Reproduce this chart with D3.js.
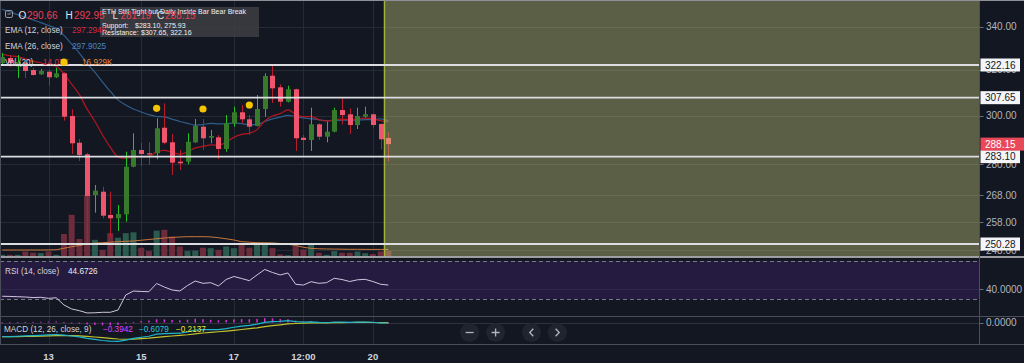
<!DOCTYPE html>
<html><head><meta charset="utf-8">
<script src="https://cdn.jsdelivr.net/npm/d3@7"></script>
<style>
html,body{margin:0;padding:0;background:#131722;overflow:hidden}
svg{display:block}
text{font-family:"Liberation Sans",Arial,sans-serif}
</style></head><body>
<svg id="c" width="1024" height="363"></svg>
<script>
// ---------------- DATA ----------------
const startTime = "2018-08-12T00:00:00Z";   // first 4h candle
const open  = [323.07,325.36,321.5,323.2,319.9,317.96,319.13,316.62,318.41,299.8,288.72,284.04,268.19,269.44,260.73,259.52,260.99,279.11,285.76,284.44,284.44,294.89,288.88,281.09,281.09,288.88,295.31,290.76,290.93,286.16,296.73,301.37,298.41,295.6,302.77,317.33,312.18,305.91,311.31,290.76,289.82,296.31,291.17,293.23,302.35,300.52,296.02,299.5,300.52,296.44,290.66];
const high  = [327.66,326.74,326.74,323.5,320.94,320.35,319.9,320.94,318.9,302.65,290.23,284.6,272.0,271.35,269.44,264.43,285.08,292.57,288.72,288.88,298.83,305.22,292.29,285.76,292.57,298.54,298.54,293.94,291.87,300.22,303.76,304.49,300.22,308.82,318.41,322.16,313.51,312.89,311.6,291.87,303.33,296.73,297.4,303.33,307.65,303.08,303.33,303.76,300.94,296.6,292.95];
const low   = [321.71,321.25,316.31,316.31,317.33,317.7,312.89,316.3,297.82,284.16,281.37,250.28,261.58,259.52,252.52,254.92,258.28,278.9,279.39,279.78,282.04,288.07,275.86,277.81,280.06,288.6,285.76,288.47,282.04,285.08,295.31,296.73,291.87,295.4,299.5,305.35,303.76,305.6,285.36,283.1,285.36,289.82,288.88,293.0,296.31,292.29,294.35,299.08,294.89,286.04,281.19];
const close = [325.82,323.07,323.53,319.45,317.65,319.45,316.62,318.41,299.5,288.47,283.75,267.81,269.83,260.47,259.52,261.1,279.11,285.76,284.16,284.04,294.64,288.72,280.69,280.45,289.13,295.73,290.52,291.46,286.16,296.73,301.37,298.41,295.31,302.77,317.2,311.75,305.91,311.31,290.52,289.82,296.31,291.17,293.23,302.35,300.22,296.02,299.8,300.52,296.02,290.11,288.15];
const volume   = [4,4,4,12,9,8,12,4,54,100,42,148,40,16,56,45,56,58,21,13,62,64,48,24,13,14,21,20,16,24,20,33,21,33,33,20,5,3,25,17,28,9,4,13,9,9,12,8,6,12,14.07];
const volumeMA = [15.6,15.6,15.6,15.6,15.6,15.6,15.8,16.2,19.7,23.5,26.4,30,32,33,34.3,35.5,36.5,37.2,39,40.8,42.5,44.4,45.6,46.8,47.5,47.5,47.5,47,45,42.5,39.6,35.5,34.3,33,33,32.6,31.2,29.5,26.4,22,19.5,18.5,18,17.8,17.5,17.3,17.2,17.1,17,17,16.929];
const ema12 = [327.0,326.4,326.0,325.0,323.8,323.2,322.2,321.6,318.2,313.6,309.0,302.7,297.6,291.9,286.9,283.0,282.4,282.9,283.1,283.2,285.0,285.6,284.8,284.1,284.9,286.6,287.2,287.8,287.6,289.0,290.9,292.1,292.6,294.1,297.7,299.8,300.8,302.4,300.6,299.5,299.6,298.3,297.6,298.3,298.5,298.2,298.6,298.9,298.6,297.8,297.2946];
const ema26 = [348.5,347.2,345.9,344.6,343.3,342.0,340.6,339.2,335.9,331.8,327.6,322.9,318.9,314.5,310.4,306.7,304.5,302.8,301.5,300.4,299.6,299.4,298.5,297.5,296.7,296.0,296.2,296.7,296.5,296.6,296.8,296.6,296.2,296.2,297.5,298.6,299.3,300.1,299.6,299.0,298.7,298.2,297.9,297.8,298.0,298.0,298.1,298.3,298.3,298.6,297.9025];
const rsi = [32.9,32.7,32.4,32.1,31.5,31.8,30.7,31.3,23.7,19.5,17.7,15.3,15.5,16.0,16.0,18.4,34.2,38.4,37.9,37.7,46.3,42.6,39.5,38.4,44.2,48.9,46.5,47.2,43.7,50.5,53.7,51.6,49.3,55.3,61.1,57.9,55.3,57.4,45.5,44.7,48.2,46.5,47.2,51.8,50.5,48.4,50.2,50.7,48.4,45.5,44.6726];
const macd = [-17.8,-17.6,-17.2,-16.8,-16.4,-16.0,-15.5,-15.0,-15.9,-16.9,-18.0,-19.9,-21.1,-22.5,-23.4,-23.7,-22.1,-19.9,-18.4,-17.2,-14.6,-13.8,-13.7,-13.4,-11.8,-9.4,-9.0,-8.9,-8.9,-7.6,-5.9,-4.5,-3.6,-2.1,0.2,1.2,1.5,2.3,1.0,0.5,0.9,0.1,-0.3,0.5,0.5,0.2,0.5,0.6,0.3,-0.4,-0.6079];
const signal = [-17.8,-17.76,-17.65,-17.48,-17.26,-17.01,-16.71,-16.37,-16.27,-16.40,-16.72,-17.36,-18.11,-18.99,-19.87,-20.64,-20.93,-20.72,-20.26,-19.65,-18.64,-17.67,-16.88,-16.18,-15.30,-14.12,-13.10,-12.26,-11.59,-10.79,-9.81,-8.75,-7.72,-6.60,-5.24,-3.95,-2.86,-1.83,-1.26,-0.91,-0.55,-0.42,-0.40,-0.22,-0.08,-0.02,0.08,0.05,0.0,-0.1,-0.2137];
const signalDots = [8,20,26,32];                 // candle indices with gold markers
const levels = [322.16, 307.65, 283.10, 250.28]; // horizontal drawn lines
const lastPrice = 288.15;
const priceTicks = [340,320,300,280,268,258,248];
const rsiTicks = [40];
const macdTicks = [0];
const timeTicks = ["2018-08-13T00:00:00Z","2018-08-15T00:00:00Z","2018-08-17T00:00:00Z","2018-08-18T12:00:00Z","2018-08-20T00:00:00Z"];
const timeTickLabels = ["13","15","17","12:00","20"];
const shadeStart = "2018-08-20T06:00:00Z";
const title = "ETH Still Tight but Daily Inside Bar Bear Break";
const supportTxt = ["Support:", "$283.10, 275.93"];
const resistTxt = ["Resistance:", "$307.65, 322.16"];

// ---------------- LAYOUT ----------------
const W = 1024, H = 363, plotR = 979.5;
const mainBot = 256.5, rsiTop = 257.5, rsiBot = 316, macdTop = 316, macdBot = 344;
const C = {bg:"#131722", grid:"#262a35", txt:"#d1d4dc", axis:"#b2b5be",
  upBody:"#377a2c", upWick:"#22c322", dnBody:"#ef566d", dnWick:"#b81c2c",
  volUp:"#2c5a4f", volDn:"#6c2c3b"};

const times = d3.range(open.length).map(i => d3.utcHour.offset(new Date(startTime), 4 * i));
const x = d3.scaleUtc().domain([new Date("2018-08-13T00:00:00Z"), new Date("2018-08-20T00:00:00Z")]).range([48.5, 372.9]);
const y = d3.scaleLog().domain([246.08, 353.09]).range([256, 0]);
const yVol = d3.scaleLinear().domain([0, 615]).range([256.5, 0]);
const yRsi = d3.scaleLinear().domain([12.1, 73.16]).range([316, 258]);
const yMacd = d3.scaleLinear().domain([-26.875, 8.125]).range([344, 316]);
const px = v => Math.round(v) + 0.5;

const svg = d3.select("#c");
svg.append("rect").attr("width", W).attr("height", H).attr("fill", C.bg);
const defs = svg.append("defs");
[["cm",0,0,plotR,mainBot],["cr",0,rsiTop,plotR,rsiBot-rsiTop],["cd",0,macdTop,plotR,macdBot-macdTop]].forEach(([id,a,b,w,h])=>{
  defs.append("clipPath").attr("id",id).append("rect").attr("x",a).attr("y",b).attr("width",w).attr("height",h);
});

// vertical grid across panes
svg.append("g").selectAll("line").data(timeTicks).join("line")
  .attr("x1", d => px(x(new Date(d)))).attr("x2", d => px(x(new Date(d))))
  .attr("y1", 0).attr("y2", macdBot).attr("stroke", C.grid).attr("stroke-width", 1);

// ---------------- MAIN PANE ----------------
const gm = svg.append("g").attr("clip-path", "url(#cm)");
gm.selectAll(".hg").data(priceTicks).join("line").attr("class","hg")
  .attr("x1",0).attr("x2",plotR).attr("y1",d=>px(y(d))).attr("y2",d=>px(y(d)))
  .attr("stroke",C.grid);

// volume
gm.selectAll(".vol").data(volume).join("rect").attr("class","vol")
  .attr("x",(d,i)=>x(times[i])-3).attr("width",6)
  .attr("y",d=>yVol(d)).attr("height",d=>yVol(0)-yVol(d))
  .attr("fill",(d,i)=>close[i]>=open[i]?C.volUp:C.volDn);
gm.append("path").datum(volumeMA)
  .attr("d", d3.line().x((d,i)=>x(times[i])).y(d=>yVol(d)))
  .attr("fill","none").attr("stroke","#c8773b").attr("stroke-width",1);

// EMAs
gm.append("path").datum(ema26).attr("d", d3.line().x((d,i)=>x(times[i])).y(d=>y(d)).curve(d3.curveMonotoneX))
  .attr("fill","none").attr("stroke","#2f5d8a").attr("stroke-width",1.2);
gm.append("path").datum(ema12).attr("d", d3.line().x((d,i)=>x(times[i])).y(d=>y(d)).curve(d3.curveMonotoneX))
  .attr("fill","none").attr("stroke","#b3161f").attr("stroke-width",1.2);

// candles
const idx = d3.range(open.length);
gm.selectAll(".wick").data(idx).join("line").attr("class","wick")
  .attr("x1",i=>px(x(times[i]))).attr("x2",i=>px(x(times[i])))
  .attr("y1",i=>y(high[i])).attr("y2",i=>y(low[i]))
  .attr("stroke",i=>close[i]>=open[i]?C.upWick:C.dnWick).attr("stroke-width",1);
gm.selectAll(".body").data(idx).join("rect").attr("class","body")
  .attr("x",i=>Math.round(x(times[i]))-2).attr("width",5)
  .attr("y",i=>y(Math.max(open[i],close[i])))
  .attr("height",i=>Math.max(1.2, y(Math.min(open[i],close[i]))-y(Math.max(open[i],close[i]))))
  .attr("fill",i=>close[i]>=open[i]?C.upBody:C.dnBody);

// shaded rectangle drawing
const sx = x(new Date(shadeStart));
gm.append("rect").attr("x",sx).attr("y",0).attr("width",plotR-sx).attr("height",mainBot)
  .attr("fill","rgb(200,205,125)").attr("fill-opacity",0.4);
gm.append("line").attr("x1",sx).attr("x2",sx).attr("y1",0).attr("y2",mainBot)
  .attr("stroke","#a2b13a").attr("stroke-width",1.5);

// horizontal level lines
gm.selectAll(".lvl").data(levels).join("line").attr("class","lvl")
  .attr("x1",0).attr("x2",plotR).attr("y1",d=>y(d)).attr("y2",d=>y(d))
  .attr("stroke","#dcdde0").attr("stroke-width",1.8);

// annotation box
gm.append("rect").attr("x",100).attr("y",7).attr("width",159).attr("height",30)
  .attr("fill","#3b3d42").attr("fill-opacity",0.88);
const ann = gm.append("g").attr("fill","#f2f2f2").attr("font-size","7px");
ann.append("text").attr("x",102).attr("y",13.5).text(title);
ann.append("text").attr("x",102).attr("y",27.5).text(supportTxt[0]);
ann.append("text").attr("x",135).attr("y",27.5).text(supportTxt[1]);
ann.append("text").attr("x",102).attr("y",35).text(resistTxt[0]);
ann.append("text").attr("x",141).attr("y",35).text(resistTxt[1]);

// legend
const lg = svg.append("g");
lg.append("rect").attr("x",5.5).attr("y",10.5).attr("width",7).attr("height",7).attr("rx",1.5)
  .attr("fill","none").attr("stroke","#9598a1");
lg.append("line").attr("x1",7.3).attr("x2",10.7).attr("y1",14).attr("y2",14).attr("stroke","#9598a1");
const last = open.length - 1;
const ohlc = [["O",open[last],18.5,27],["H",high[last],65.5,74],["L",low[last],112.5,120.5],["C",close[last],157,165]];
ohlc.forEach(([k,v,kx,vx])=>{
  lg.append("text").attr("x",kx).attr("y",18.5).attr("font-size","10px").attr("fill","#e1e3ea").text(k);
  lg.append("text").attr("x",vx).attr("y",18.5).attr("font-size","10px").attr("fill","#ea3f55").text(v.toFixed(2));
});
const f = d3.format(".4f");
const hist = macd.map((m,i)=>m-signal[i]);
const legendRows = [
  [["EMA (12, close)",5,C.txt],[f(ema12[last]),72,"#d7263d"]],
  [["EMA (26, close)",5,C.txt],[f(ema26[last]),72,"#4b84bf"]],
  [["Vol (20)",5,C.txt],[volume[last].toFixed(2)+"K",43,"#d9334a"],[volumeMA[last].toFixed(3)+"K",82,"#e38a3a"]]
];
[33,48.5,64.5].forEach((by,r)=>{
  legendRows[r].forEach(([t,tx,col])=>{
    lg.append("text").attr("x",tx).attr("y",by).attr("font-size","8.2px").attr("fill",col).text(t);
  });
});

// gold markers
svg.append("g").attr("clip-path","url(#cm)").selectAll("circle").data(signalDots).join("circle")
  .attr("cx",i=>x(times[i])).attr("cy",i=>y(high[i])-10).attr("r",3.6).attr("fill","#f5c400");

// ---------------- RSI PANE ----------------
const gr = svg.append("g").attr("clip-path","url(#cr)");
gr.append("rect").attr("x",0).attr("width",plotR).attr("y",yRsi(70)).attr("height",yRsi(30)-yRsi(70)).attr("fill","#251b40");
gr.selectAll(".rg").data(rsiTicks).join("line").attr("x1",0).attr("x2",plotR)
  .attr("y1",d=>px(yRsi(d))).attr("y2",d=>px(yRsi(d))).attr("stroke","#2c2846");
gr.selectAll(".rb").data([70,30]).join("line").attr("x1",0).attr("x2",plotR)
  .attr("y1",d=>px(yRsi(d))).attr("y2",d=>px(yRsi(d))).attr("stroke","#787b86").attr("stroke-dasharray","4 3");
gr.append("path").datum(rsi).attr("d",d3.line().x((d,i)=>x(times[i])).y(d=>yRsi(d)))
  .attr("fill","none").attr("stroke","#cfc8de").attr("stroke-width",1);
svg.append("text").attr("x",5).attr("y",273.5).attr("font-size","8.2px").attr("fill",C.txt).text("RSI (14, close)");
svg.append("text").attr("x",68).attr("y",273.5).attr("font-size","8.2px").attr("fill","#ebebf2").text(f(rsi[last]));

// ---------------- MACD PANE ----------------
const gd = svg.append("g").attr("clip-path","url(#cd)");
gd.selectAll(".mg").data(macdTicks).join("line").attr("x1",0).attr("x2",plotR)
  .attr("y1",d=>px(yMacd(d))).attr("y2",d=>px(yMacd(d))).attr("stroke","#2e323e");
gd.selectAll(".hb").data(hist).join("rect")
  .attr("x",(d,i)=>x(times[i])-0.75).attr("width",1.5)
  .attr("y",d=>Math.min(yMacd(0),yMacd(d))).attr("height",d=>Math.max(0.8,Math.abs(yMacd(d)-yMacd(0))))
  .attr("fill","#d633d6");
gd.append("path").datum(signal).attr("d",d3.line().x((d,i)=>x(times[i])).y(d=>yMacd(d)))
  .attr("fill","none").attr("stroke","#c2c22c").attr("stroke-width",1.2);
gd.append("path").datum(macd).attr("d",d3.line().x((d,i)=>x(times[i])).y(d=>yMacd(d)))
  .attr("fill","none").attr("stroke","#1fb6cc").attr("stroke-width",1.2);
const ml = [["MACD (12, 26, close, 9)",4,C.txt],[f(hist[last]),103,"#e040fb"],[f(macd[last]),139,"#26c6da"],[f(signal[last]),176,"#e6e62e"]];
ml.forEach(([t,tx,col])=>svg.append("text").attr("x",tx).attr("y",332).attr("font-size","8.2px").attr("fill",col).text(t));

// navigation buttons
const btn = svg.append("g");
[[469.6,"minus"],[495.6,"plus"],[531.5,"left"],[557.4,"right"]].forEach(([bx,k])=>{
  const g = btn.append("g").attr("transform",`translate(${bx},332.5)`);
  g.append("circle").attr("r",9.5).attr("fill","#20242f");
  const add = (d)=>g.append("path").attr("d",d).attr("stroke","#b2b5be").attr("stroke-width",1.3).attr("fill","none");
  if(k==="minus") add("M-4,0H4");
  if(k==="plus") add("M-4,0H4M0,-4V4");
  if(k==="left") add("M1.8,-3.8L-1.8,0L1.8,3.8");
  if(k==="right") add("M-1.8,-3.8L1.8,0L-1.8,3.8");
});

// ---------------- SEPARATORS / BORDERS ----------------
svg.append("line").attr("x1",0).attr("x2",W).attr("y1",257).attr("y2",257).attr("stroke","#c9cacd").attr("stroke-width",1.3);
svg.append("line").attr("x1",0).attr("x2",W).attr("y1",px(rsiBot)).attr("y2",px(rsiBot)).attr("stroke","#4a4e5a");
svg.append("line").attr("x1",0).attr("x2",W).attr("y1",px(macdBot)).attr("y2",px(macdBot)).attr("stroke","#4a4e5a");
svg.append("line").attr("x1",plotR).attr("x2",plotR).attr("y1",0).attr("y2",macdBot).attr("stroke","#4a4e5a");
svg.append("line").attr("x1",0.5).attr("x2",0.5).attr("y1",0).attr("y2",macdBot).attr("stroke","#4a4e5a");
svg.append("rect").attr("x",0).attr("y",0).attr("width",W).attr("height",1).attr("fill","#8f9097");

// ---------------- RIGHT AXIS ----------------
const ax = svg.append("g").attr("font-size","10px");
const tickLab = (yy, txt) => {
  ax.append("line").attr("x1",plotR).attr("x2",plotR+4).attr("y1",px(yy)).attr("y2",px(yy)).attr("stroke","#6a6d78");
  ax.append("text").attr("x",986).attr("y",yy).attr("dy","0.36em").attr("fill",C.axis).text(txt);
};
priceTicks.forEach(p=>tickLab(y(p), p.toFixed(2)));
rsiTicks.forEach(v=>tickLab(yRsi(v), v.toFixed(4)));
macdTicks.forEach(v=>tickLab(yMacd(v), v.toFixed(4)));
levels.forEach(l=>{
  ax.append("rect").attr("x",980.5).attr("y",y(l)-6.5).attr("width",39.5).attr("height",13).attr("fill","#f4f5f8");
  ax.append("text").attr("x",985).attr("y",y(l)).attr("dy","0.36em").attr("fill","#131722").text(l.toFixed(2));
});
ax.append("rect").attr("x",980.5).attr("y",y(lastPrice)-6.5).attr("width",43.5).attr("height",13).attr("fill","#e84858");
ax.append("text").attr("x",985).attr("y",y(lastPrice)).attr("dy","0.36em").attr("fill","#ffffff").text(lastPrice.toFixed(2));

// ---------------- TIME AXIS ----------------
svg.append("g").selectAll("text").data(timeTicks).join("text")
  .attr("x",d=>x(new Date(d))).attr("y",359.5).attr("text-anchor","middle")
  .attr("font-size","9.5px").attr("font-weight","bold").attr("fill",C.txt)
  .text((d,i)=>timeTickLabels[i]);
</script>
</body></html>
